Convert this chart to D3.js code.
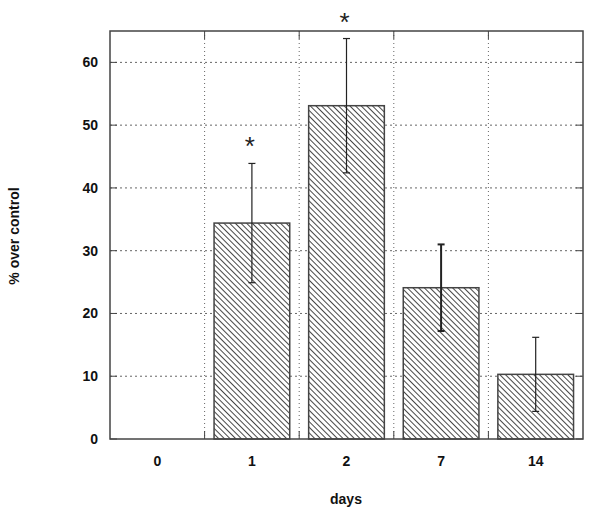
<!DOCTYPE html>
<html>
<head>
<meta charset="utf-8">
<script src="https://cdn.jsdelivr.net/npm/d3@7"></script>
<style>
  body { margin: 0; background: #fff; }
  text { font-family: "Liberation Sans", Arial, sans-serif; }
</style>
</head>
<body>
<div id="chart"></div>
<script>
// data
var days = ["0", "1", "2", "7", "14"];
var meanValues = [0, 34.4, 53.1, 24.1, 10.3];
var errValues = [0, 9.5, 10.7, 6.9, 5.9];
var significant = [false, true, true, false, false];
var yTicks = [0, 10, 20, 30, 40, 50, 60];

var width = 600, height = 517;
// plot area (window.top is reserved, so use own names)
var plotLeft = 110, plotRight = 583, plotTop = 31, plotBottom = 439;

var svg = d3.select("#chart")
    .append("svg")
    .attr("width", width)
    .attr("height", height);

// hatch for the bars (lines running top-left to bottom-right)
svg.append("defs")
    .append("pattern")
    .attr("id", "hatch")
    .attr("patternUnits", "userSpaceOnUse")
    .attr("width", 4)
    .attr("height", 4)
    .attr("patternTransform", "rotate(-45)")
    .call(function(p) {
        p.append("rect").attr("width", 4).attr("height", 4).attr("fill", "#fff");
        p.append("line")
            .attr("x1", 0.5).attr("y1", 0)
            .attr("x2", 0.5).attr("y2", 4)
            .attr("stroke", "#333")
            .attr("stroke-width", 0.9);
    });

var x = d3.scaleBand()
    .domain(days)
    .range([plotLeft, plotRight])
    .paddingInner(0.2)
    .paddingOuter(0.1);

var y = d3.scaleLinear()
    .domain([0, 65])
    .range([plotBottom, plotTop]);

// horizontal grid
svg.selectAll(".hgrid")
    .data(yTicks.filter(function(d) { return d > 0; }))
    .enter()
    .append("line")
    .attr("x1", plotLeft).attr("x2", plotRight)
    .attr("y1", function(d) { return y(d); })
    .attr("y2", function(d) { return y(d); })
    .attr("stroke", "#666")
    .attr("stroke-width", 1)
    .attr("stroke-dasharray", "2,3");

// vertical grid at the band boundaries
var bounds = days.slice(1).map(function(d) { return x(d) - x.step() * x.paddingInner() / 2; });
svg.selectAll(".vgrid")
    .data(bounds)
    .enter()
    .append("line")
    .attr("x1", function(d) { return d; })
    .attr("x2", function(d) { return d; })
    .attr("y1", plotTop).attr("y2", plotBottom)
    .attr("stroke", "#666")
    .attr("stroke-width", 1)
    .attr("stroke-dasharray", "1,3");

// tick marks on the inside of the frame
svg.selectAll(".ytickL")
    .data(yTicks)
    .enter()
    .append("line")
    .attr("x1", plotLeft).attr("x2", plotLeft + 7)
    .attr("y1", function(d) { return y(d); })
    .attr("y2", function(d) { return y(d); })
    .attr("stroke", "#444");
svg.selectAll(".ytickR")
    .data(yTicks)
    .enter()
    .append("line")
    .attr("x1", plotRight - 7).attr("x2", plotRight)
    .attr("y1", function(d) { return y(d); })
    .attr("y2", function(d) { return y(d); })
    .attr("stroke", "#444");
svg.selectAll(".xtickB")
    .data(bounds)
    .enter()
    .append("line")
    .attr("x1", function(d) { return d; })
    .attr("x2", function(d) { return d; })
    .attr("y1", plotBottom - 8).attr("y2", plotBottom)
    .attr("stroke", "#444");
svg.selectAll(".xtickT")
    .data(bounds)
    .enter()
    .append("line")
    .attr("x1", function(d) { return d; })
    .attr("x2", function(d) { return d; })
    .attr("y1", plotTop).attr("y2", plotTop + 8)
    .attr("stroke", "#444");

// bars
var rows = days.map(function(d, i) {
    return { day: d, mean: meanValues[i], err: errValues[i], sig: significant[i] };
});

svg.selectAll(".bar")
    .data(rows.filter(function(d) { return d.mean > 0; }))
    .enter()
    .append("rect")
    .attr("x", function(d) { return x(d.day); })
    .attr("y", function(d) { return y(d.mean); })
    .attr("width", x.bandwidth())
    .attr("height", function(d) { return y(0) - y(d.mean); })
    .attr("fill", "url(#hatch)")
    .attr("stroke", "#444")
    .attr("stroke-width", 1.5);

// error bars
var eb = svg.selectAll(".err")
    .data(rows.filter(function(d) { return d.err > 0; }))
    .enter()
    .append("g")
    .attr("stroke", "#222")
    .attr("stroke-width", function(d) { return d.day === "7" ? 2 : 1.2; });
eb.append("line")
    .attr("x1", function(d) { return x(d.day) + x.bandwidth() / 2; })
    .attr("x2", function(d) { return x(d.day) + x.bandwidth() / 2; })
    .attr("y1", function(d) { return y(d.mean + d.err); })
    .attr("y2", function(d) { return y(d.mean - d.err); });
eb.selectAll(".cap")
    .data(function(d) { return [d.mean + d.err, d.mean - d.err].map(function(v) { return { day: d.day, v: v }; }); })
    .enter()
    .append("line")
    .attr("x1", function(d) { return x(d.day) + x.bandwidth() / 2 - 3.5; })
    .attr("x2", function(d) { return x(d.day) + x.bandwidth() / 2 + 3.5; })
    .attr("y1", function(d) { return y(d.v); })
    .attr("y2", function(d) { return y(d.v); });

// significance stars
svg.selectAll(".star")
    .data(rows.filter(function(d) { return d.sig; }))
    .enter()
    .append("text")
    .attr("x", function(d) { return x(d.day) + x.bandwidth() / 2 - 2; })
    .attr("y", function(d) { return y(d.mean + d.err) - 8; })
    .attr("text-anchor", "middle")
    .style("font-size", "26px")
    .attr("fill", "#222")
    .text("*");

// frame
svg.append("rect")
    .attr("x", plotLeft).attr("y", plotTop)
    .attr("width", plotRight - plotLeft).attr("height", plotBottom - plotTop)
    .attr("fill", "none")
    .attr("stroke", "#444")
    .attr("stroke-width", 1.5);

// tick labels
svg.selectAll(".ylab")
    .data(yTicks)
    .enter()
    .append("text")
    .attr("x", 98)
    .attr("y", function(d) { return y(d); })
    .attr("dy", "0.35em")
    .attr("text-anchor", "end")
    .style("font-size", "14px")
    .style("font-weight", "bold")
    .attr("fill", "#111")
    .text(function(d) { return d; });

svg.selectAll(".xlab")
    .data(days)
    .enter()
    .append("text")
    .attr("x", function(d) { return x(d) + x.bandwidth() / 2; })
    .attr("y", 461)
    .attr("dy", "0.35em")
    .attr("text-anchor", "middle")
    .style("font-size", "14px")
    .style("font-weight", "bold")
    .attr("fill", "#111")
    .text(function(d) { return d; });

// axis titles
svg.append("text")
    .attr("x", 346)
    .attr("y", 499)
    .attr("dy", "0.35em")
    .attr("text-anchor", "middle")
    .style("font-size", "14px")
    .style("font-weight", "bold")
    .attr("fill", "#111")
    .text("days");

svg.append("text")
    .attr("transform", "translate(14,236) rotate(-90)")
    .attr("dy", "0.35em")
    .attr("text-anchor", "middle")
    .style("font-size", "14px")
    .style("font-weight", "bold")
    .attr("fill", "#111")
    .text("% over control");
</script>
</body>
</html>
